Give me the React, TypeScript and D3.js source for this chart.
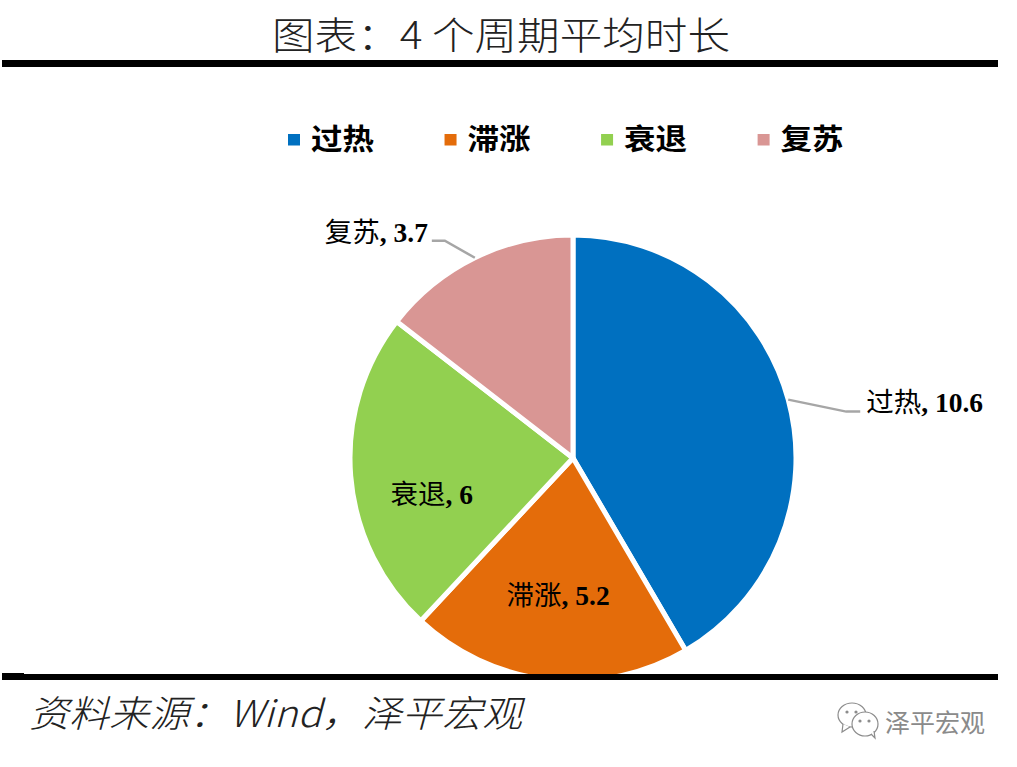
import * as d3 from "d3";
import { useEffect, useRef } from "react";

const categories = ["过热", "滞涨", "衰退", "复苏"];
const durations = [10.6, 5.2, 6, 3.7];
const sliceColors = ["#0070c0", "#e46c0a", "#92d050", "#d99694"];

const titleText = "图表：4 个周期平均时长";
const sourceText = "资料来源：Wind，泽平宏观";
const watermarkText = "泽平宏观";

const CJK = "'Noto Sans CJK SC', sans-serif";
const LABEL_FONT = "'Liberation Serif', 'Noto Sans CJK SC', serif";

const App = () => {
  const svgRef = useRef<SVGSVGElement>(null);

  useEffect(() => {
    if (!svgRef.current) return;
    const svg = d3.select(svgRef.current);
    svg.selectAll("*").remove();

    const cx = 573;
    const cy = 458;
    const radius = 223;

    const pie = d3.pie<number>().sort(null).value(d => d);
    const arcs = pie(durations);
    const arc = d3.arc<d3.PieArcDatum<number>>().innerRadius(0).outerRadius(radius);
    const edge = d3.arc<d3.PieArcDatum<number>>().innerRadius(radius).outerRadius(radius);
    const inner = d3.arc<d3.PieArcDatum<number>>().innerRadius(radius * 0.645).outerRadius(radius * 0.645);

    const chart = svg.append("g").attr("transform", `translate(${cx},${cy})`);

    chart.selectAll("path.slice")
      .data(arcs)
      .join("path")
      .attr("class", "slice")
      .attr("d", arc)
      .attr("fill", (_, i) => sliceColors[i])
      .attr("stroke", "#fff")
      .attr("stroke-width", 5)
      .attr("stroke-linejoin", "round");

    // leader lines only for the two outside labels
    const leaders: { index: number; elbow: [number, number]; end: [number, number] }[] = [
      { index: 0, elbow: [58, 12], end: [72, 12] },
      { index: 3, elbow: [-30, -17], end: [-43, -17] },
    ];
    leaders.forEach(l => {
      const [sx, sy] = edge.centroid(arcs[l.index]);
      const line = d3.line();
      chart.append("path")
        .attr("d", line([
          [sx, sy],
          [sx + l.elbow[0], sy + l.elbow[1]],
          [sx + l.end[0], sy + l.end[1]],
        ]))
        .attr("fill", "none")
        .attr("stroke", "#a6a6a6")
        .attr("stroke-width", 2.5);
    });

    // data labels, offset from the slice they belong to
    const labelPos: { x: number; y: number; anchor: string }[] = [
      (() => { const [x, y] = edge.centroid(arcs[0]); return { x: x + 78, y: y + 12, anchor: "start" }; })(),
      (() => { const [x, y] = inner.centroid(arcs[1]); return { x: x + 1, y: y + 4, anchor: "middle" }; })(),
      (() => { const [x, y] = inner.centroid(arcs[2]); return { x: x + 2, y: y + 34, anchor: "middle" }; })(),
      (() => { const [x, y] = edge.centroid(arcs[3]); return { x: x - 150, y: y - 16, anchor: "start" }; })(),
    ];
    arcs.forEach((a, i) => {
      const t = chart.append("text")
        .attr("x", labelPos[i].x)
        .attr("y", labelPos[i].y)
        .attr("text-anchor", labelPos[i].anchor)
        .attr("font-family", LABEL_FONT)
        .attr("font-size", 27.5)
        .attr("fill", "#000");
      t.append("tspan").attr("font-family", CJK).text(categories[i]);
      t.append("tspan").attr("font-weight", "bold").text(`, ${a.data}`);
    });

    // legend
    const legendX = d3.scalePoint<string>().domain(categories).range([288, 757.6]);
    const legend = svg.append("g");
    categories.forEach((c, i) => {
      const x = legendX(c)!;
      legend.append("rect")
        .attr("x", x)
        .attr("y", 134)
        .attr("width", 12)
        .attr("height", 11.5)
        .attr("fill", sliceColors[i]);
      legend.append("text")
        .attr("x", x + 23)
        .attr("y", 150)
        .attr("font-family", CJK)
        .attr("font-weight", "bold")
        .attr("font-size", 29)
        .attr("textLength", 63)
        .attr("lengthAdjust", "spacingAndGlyphs")
        .text(c);
    });

    // title and rules
    svg.append("text")
      .attr("x", 272)
      .attr("y", 49)
      .attr("font-family", CJK)
      .attr("font-weight", 300)
      .attr("font-size", 38)
      .attr("fill", "#222")
      .attr("textLength", 458)
      .attr("lengthAdjust", "spacingAndGlyphs")
      .text(titleText);

    svg.append("rect").attr("x", 2).attr("y", 60).attr("width", 996).attr("height", 7).attr("fill", "#000");
    svg.append("rect").attr("x", 2).attr("y", 674).attr("width", 996).attr("height", 6).attr("fill", "#000");
    svg.append("rect").attr("x", 2).attr("y", 673).attr("width", 22).attr("height", 2).attr("fill", "#000");

    // source line
    svg.append("text")
      .attr("x", 29)
      .attr("y", 727)
      .attr("font-family", CJK)
      .attr("font-weight", 300)
      .attr("font-style", "italic")
      .attr("font-size", 37)
      .attr("fill", "#222")
      .attr("textLength", 493)
      .attr("lengthAdjust", "spacingAndGlyphs")
      .text(sourceText);

    // wechat watermark
    const mark = svg.append("g")
      .attr("fill", "#fff")
      .attr("stroke", "#8c8c8c")
      .attr("stroke-width", 1.2);
    mark.append("ellipse").attr("cx", 852).attr("cy", 715).attr("rx", 14).attr("ry", 12);
    mark.append("path").attr("d", d3.line()([[843, 724], [842, 732], [850, 727]]));
    mark.append("ellipse").attr("cx", 865).attr("cy", 724).attr("rx", 13).attr("ry", 12);
    mark.append("path").attr("d", d3.line()([[871, 734], [875, 738], [874, 731]]));
    [[847, 712], [856, 712], [860, 721], [869, 721]].forEach(([x, y]) => {
      mark.append("circle").attr("cx", x).attr("cy", y).attr("r", 1.6).attr("fill", "#8c8c8c").attr("stroke", "none");
    });

    svg.append("text")
      .attr("x", 885)
      .attr("y", 732)
      .attr("font-family", CJK)
      .attr("font-size", 25)
      .attr("fill", "#8a8a8a")
      .attr("textLength", 100)
      .attr("lengthAdjust", "spacingAndGlyphs")
      .text(watermarkText);
  }, []);

  return (
    <svg
      ref={svgRef}
      width={1017}
      height={767}
      style={{ position: "absolute", left: 0, top: 0, background: "#fff" }}
    />
  );
};

export default App;
